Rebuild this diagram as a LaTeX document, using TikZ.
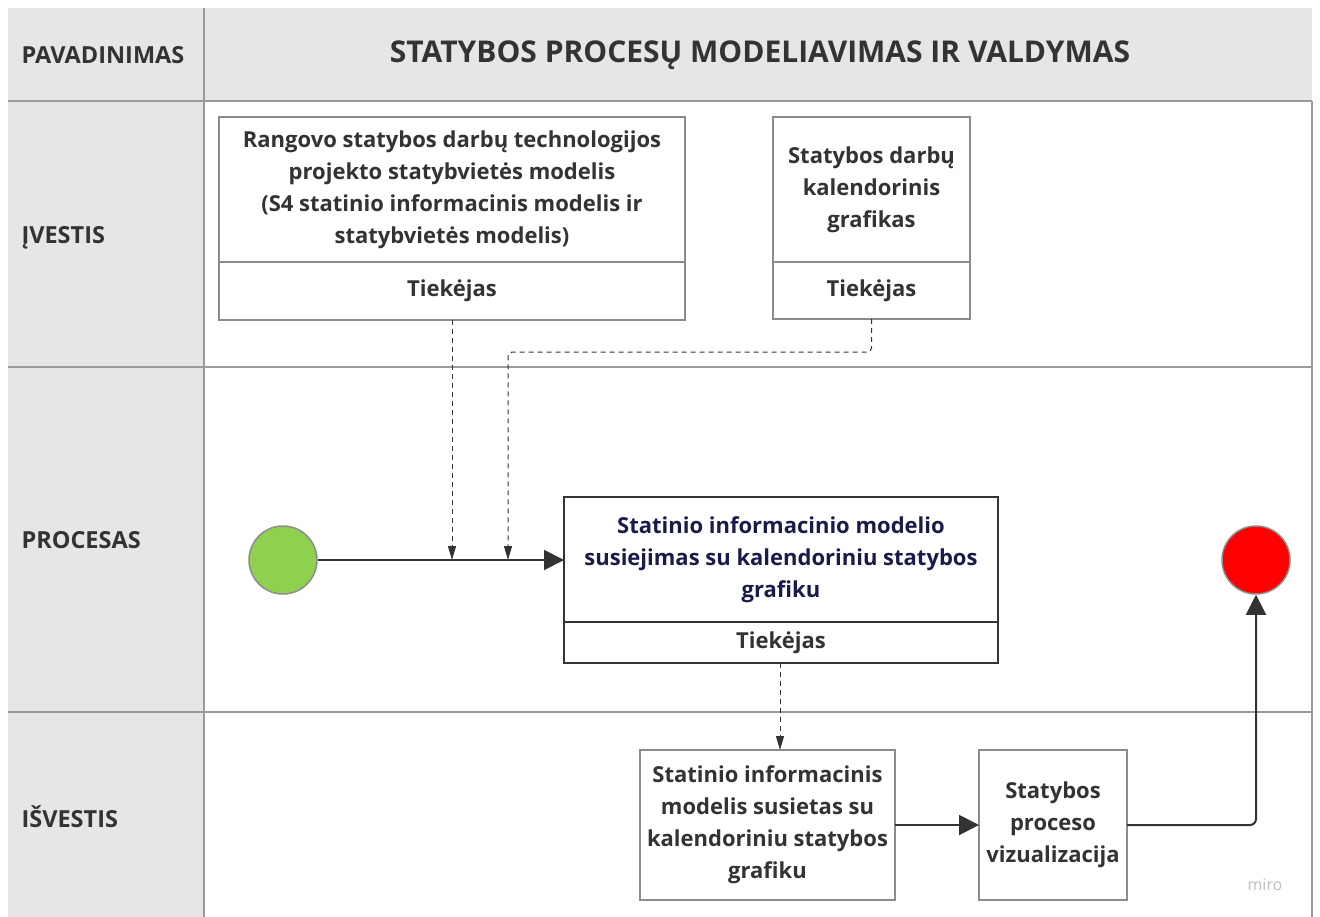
\documentclass[tikz,border=0pt]{standalone}
\usepackage{fontspec}
\setmainfont{Open Sans}
\usetikzlibrary{positioning,arrows.meta}
\definecolor{lanegray}{HTML}{E6E6E6}
\definecolor{linegray}{HTML}{9A9A9A}
\definecolor{boxgray}{HTML}{8C8C8C}
\definecolor{ink}{HTML}{333333}
\definecolor{navy}{HTML}{1B1B4B}
\definecolor{startgreen}{HTML}{8FD14F}
\tikzset{
rowlabel/.style={anchor=west, text=ink,
	font=\fontsize{23.5}{26}\selectfont\bfseries},
docbox/.style={draw=boxgray, line width=1.5pt, fill=white, align=center,
	outer sep=0pt, inner sep=0pt, text=ink,
	font=\fontsize{22}{32}\selectfont\bfseries},
procbox/.style={docbox, draw=ink, line width=2pt},
event/.style={circle, draw=boxgray, line width=1.5pt, minimum size=68pt},
flowto/.style={draw=ink, line width=2pt, -{Triangle[length=20pt,width=20pt]}},
infoto/.style={draw=ink, line width=1pt, dash pattern=on 5pt off 4pt,
	-{Triangle[length=14pt,width=8pt]}}
}

\begin{document}
\begin{tikzpicture}[x=1pt, y=-1pt]
	\useasboundingbox (0,0) rectangle (1320,917);
	% lanes
	\fill[lanegray] (8,8) rectangle (1312,101);
	\fill[lanegray] (8,101) rectangle (204,917);
	\foreach \y in {101,367,712}
		\draw[linegray, line width=1.5pt] (8,\y) -- (1312,\y);
	\draw[linegray, line width=1.5pt] (204,8) -- (204,917);
	\draw[linegray, line width=1.5pt] (1312,101) -- (1312,917);

	\node[rowlabel] (pav) at (18,55) {PAVADINIMAS};
	\node[rowlabel] (ivestis) at (18,238) {ĮVESTIS};
	\node[rowlabel] (procesas) at (18,540) {PROCESAS};
	\node[rowlabel] (isvestis) at (18,817) {IŠVESTIS};
	\node[text=ink, font=\fontsize{30}{34}\selectfont\bfseries] (title) at (760,55)
		{STATYBOS PROCESŲ MODELIAVIMAS IR VALDYMAS};

	% inputs
	\node[docbox, anchor=north west, minimum width=466pt, minimum height=145pt] (rango) at (219,117)
		{Rangovo statybos darbų technologijos\\ projekto statybvietės modelis\\
		 (S4 statinio informacinis modelis ir\\ statybvietės modelis)};
	\node[docbox, below=0pt of rango, minimum width=466pt, minimum height=58pt] (rango-t) {Tiekėjas};
	\node[docbox, anchor=north west, minimum width=197pt, minimum height=145pt] (kal) at (773,117)
		{Statybos darbų\\ kalendorinis\\ grafikas};
	\node[docbox, below=0pt of kal, minimum width=197pt, minimum height=57pt] (kal-t) {Tiekėjas};

	% process
	\node[event, fill=startgreen] (start) at (283,560) {};
	\node[procbox, anchor=north west, minimum width=434pt, minimum height=125pt, text=navy] (susiej) at (564,497)
		{Statinio informacinio modelio\\ susiejimas su kalendoriniu statybos\\ grafiku};
	\node[procbox, below=0pt of susiej, minimum width=434pt, minimum height=41pt] (susiej-t) {Tiekėjas};
	\node[event, fill=red] (finish) at (1256,560) {};

	% outputs
	\node[docbox, anchor=north west, minimum width=255pt, minimum height=150pt] (modelis) at (640,750)
		{Statinio informacinis\\ modelis susietas su\\ kalendoriniu statybos\\ grafiku};
	\node[docbox, anchor=north west, minimum width=148pt, minimum height=150pt] (vizual) at (979,750)
		{Statybos\\ proceso\\ vizualizacija};
	\node[text=black!25, font=\fontsize{16}{18}\selectfont] (miro) at (1265,885) {miro};

	% connectors
	\coordinate (bend) at (508,352);
	\draw[flowto] (start) -- (susiej.west |- start);
	\draw[infoto] (rango-t.south) -- (rango-t.south |- start);
	\draw[infoto, rounded corners=4pt] (kal-t.south) |- (bend) -- (bend |- start);
	\draw[infoto] (susiej-t.south -| 780,0) -- (modelis.north -| 780,0);
	\draw[flowto] (modelis) -- (vizual);
	\draw[flowto, rounded corners=6pt] (vizual.east) -| (finish.south);
\end{tikzpicture}
\end{document}
